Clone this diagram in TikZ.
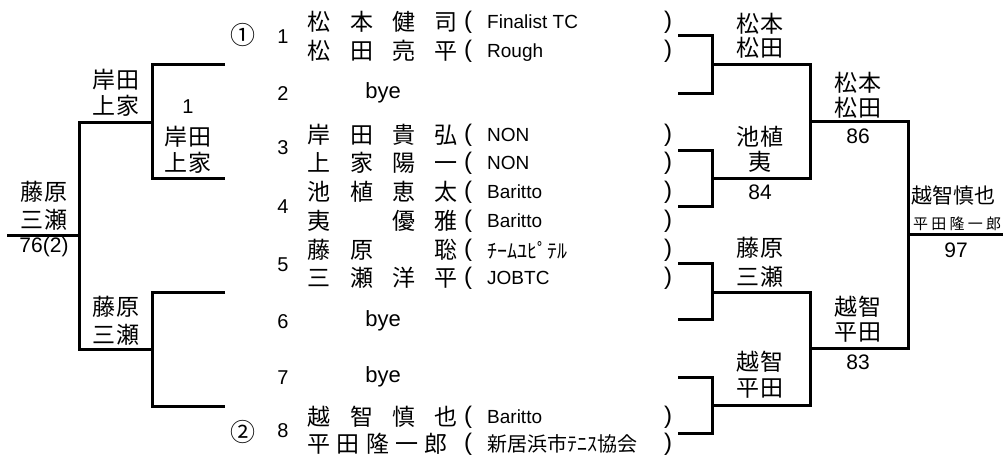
\documentclass[tikz,border=0pt]{standalone}
\usepackage{fontspec}
\setmainfont{Liberation Sans}
\newfontfamily\jp{Noto Sans CJK JP}
\newcommand\fs[1]{\fontsize{#1}{#1}\selectfont}
\newcommand\nmfour[4]{\makebox[150pt][s]{#1\hfil#2\hfil#3\hfil#4}}
\newcommand\nmfive[5]{\makebox[140pt][s]{#1\hfil#2\hfil#3\hfil#4\hfil#5}}
\newcommand\duo[2]{\makebox[48pt][s]{#1\hfil#2}}
\newcommand\gap{\hphantom{口}}
\begin{document}
\begin{tikzpicture}[x=1pt,y=-1pt,
  br/.style={line width=3pt, line join=miter},
  nm/.style={font=\jp\fs{23}, anchor=west, inner sep=0pt},
  lb/.style={font=\jp\fs{23}, inner sep=0pt},
  num/.style={font=\fs{20}, inner sep=0pt},
  sc/.style={font=\fs{21}, inner sep=0pt},
  circ/.style={font=\jp\fs{25}, inner sep=0pt},
  tm/.style={font=\fs{19}, anchor=west, inner sep=0pt, text height=13.7pt, text depth=0pt},
  tmj/.style={font=\jp\fs{20}, anchor=west, inner sep=0pt},
  pl/.style={font=\fs{24}, inner sep=0pt}]
\useasboundingbox (0,0) rectangle (1003,459);

% ---- seeds and draw numbers
\node[circ] (s1) at (243,35) {①};
\node[circ] (s2) at (243,432) {②};
\node[num] (n1) at (283,36.5) {1};
\node[num] (n2) at (283,94) {2};
\node[num] (n3) at (283,148) {3};
\node[num] (n4) at (283,207) {4};
\node[num] (n5) at (283,265) {5};
\node[num] (n6) at (283,322) {6};
\node[num] (n7) at (283,378) {7};
\node[num] (n8) at (283,431) {8};

% ---- byes
\node[font=\fs{22}, inner sep=0pt] (b2) at (383,93) {bye};
\node[font=\fs{22}, inner sep=0pt] (b6) at (383,321) {bye};
\node[font=\fs{22}, inner sep=0pt] (b7) at (383,377) {bye};

% ---- player names
\node[nm] (p1a) at (307.5,22) {\nmfour{松}{本}{健}{司}};
\node[nm] (p1b) at (307.5,51) {\nmfour{松}{田}{亮}{平}};
\node[nm] (p3a) at (307.5,135) {\nmfour{岸}{田}{貴}{弘}};
\node[nm] (p3b) at (307.5,163) {\nmfour{上}{家}{陽}{一}};
\node[nm] (p4a) at (307.5,192) {\nmfour{池}{植}{恵}{太}};
\node[nm] (p4b) at (307.5,221) {\nmfour{夷}{\gap}{優}{雅}};
\node[nm] (p5a) at (307.5,250) {\nmfour{藤}{原}{\gap}{聡}};
\node[nm] (p5b) at (307.5,278) {\nmfour{三}{瀬}{洋}{平}};
\node[nm] (p8a) at (307.5,417) {\nmfour{越}{智}{慎}{也}};
\node[nm] (p8b) at (307.5,444) {\nmfive{平}{田}{隆}{一}{郎}};

% ---- brackets round the teams
\foreach \y/\n in {22/1a,51/1b,135/3a,163/3b,192/4a,221/4b,250/5a,278/5b,417/8a,444/8b}{
  \node[pl] (o\n) at (468,\y) {(};
  \node[pl] (c\n) at (668,\y) {)};
}

% ---- teams
\node[tm] (t1a) at (487,22) {Finalist TC};
\node[tm] (t1b) at (487,51) {Rough};
\node[tm] (t3a) at (487,135) {NON};
\node[tm] (t3b) at (487,163) {NON};
\node[tm] (t4a) at (487,192) {Baritto};
\node[tm] (t4b) at (487,221) {Baritto};
\node[tmj] (t5a) at (487,250) {ﾁｰﾑﾕﾋﾟﾃﾙ};
\node[tm] (t5b) at (487,278) {JOBTC};
\node[tm] (t8a) at (487,417) {Baritto};
\node[tmj] (t8b) at (487,444) {新居浜市ﾃﾆｽ協会};

% ---- left bracket lines
\draw[br] (225,64) -- (152,64) -- (152,178) -- (225,178);
\draw[br] (225,292) -- (152,292) -- (152,406) -- (225,406);
\draw[br] (152,122) -- (79,122) -- (79,349) -- (152,349);
\draw[br] (79,235) -- (7,235);

% ---- right bracket lines
\draw[br] (678,35) -- (712,35) -- (712,93) -- (678,93);
\draw[br] (678,150) -- (712,150) -- (712,206) -- (678,206);
\draw[br] (678,263) -- (712,263) -- (712,319) -- (678,319);
\draw[br] (678,377) -- (712,377) -- (712,433) -- (678,433);
\draw[br] (712,64) -- (810,64) -- (810,178) -- (712,178);
\draw[br] (712,292) -- (810,292) -- (810,405) -- (712,405);
\draw[br] (810,121) -- (908,121) -- (908,348) -- (810,348);
\draw[br] (908,234) -- (1003,234);

% ---- left labels
\node[lb] (la1) at (116,80) {\duo{岸}{田}};
\node[lb] (la2) at (116,106) {\duo{上}{家}};
\node[num] (lb0) at (188,107) {1};
\node[lb] (lb1) at (188,137) {\duo{岸}{田}};
\node[lb] (lb2) at (188,163) {\duo{上}{家}};
\node[lb] (lc1) at (44,192) {\duo{藤}{原}};
\node[lb] (lc2) at (44,220) {\duo{三}{瀬}};
\node[sc] (lc3) at (44,247) {76(2)};
\node[lb] (ld1) at (116,307) {\duo{藤}{原}};
\node[lb] (ld2) at (116,335) {\duo{三}{瀬}};

% ---- right labels
\node[lb] (ra1) at (760,24) {\duo{松}{本}};
\node[lb] (ra2) at (760,48) {\duo{松}{田}};
\node[lb] (rb1) at (760,137) {\duo{池}{植}};
\node[lb] (rb2) at (760,162) {夷};
\node[sc] (rb3) at (760,192) {84};
\node[lb] (rc1) at (760,248) {\duo{藤}{原}};
\node[lb] (rc2) at (760,277) {\duo{三}{瀬}};
\node[lb] (rd1) at (760,362) {\duo{越}{智}};
\node[lb] (rd2) at (760,389) {\duo{平}{田}};
\node[lb] (re1) at (858,83) {\duo{松}{本}};
\node[lb] (re2) at (858,108) {\duo{松}{田}};
\node[sc] (re3) at (858,136) {86};
\node[lb] (rf1) at (858,307) {\duo{越}{智}};
\node[lb] (rf2) at (858,333) {\duo{平}{田}};
\node[sc] (rf3) at (858,362) {83};
\node[font=\jp\fs{21}, inner sep=0pt] (w1) at (953,196) {越智慎也};
\node[font=\jp\fs{15}, inner sep=0pt] (w2) at (957,224) {\makebox[88pt][s]{平\hfil 田\hfil 隆\hfil 一\hfil 郎}};
\node[sc] (w3) at (956,250) {97};
\end{tikzpicture}
\end{document}
